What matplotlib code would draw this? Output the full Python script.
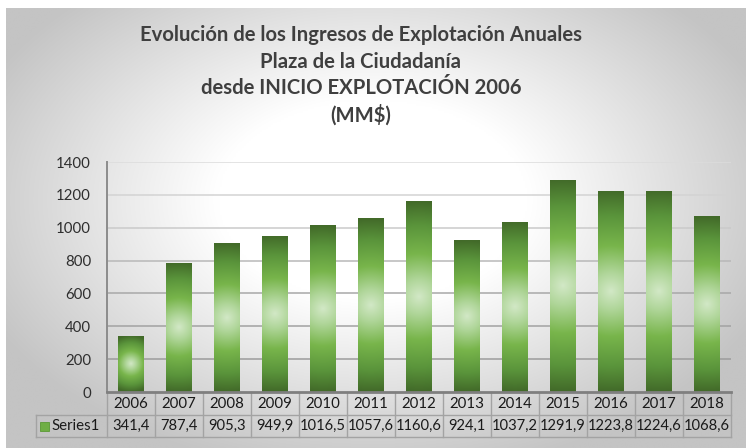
import numpy as np
import matplotlib
matplotlib.use("Agg")
import matplotlib.pyplot as plt
from matplotlib.colors import LinearSegmentedColormap
from matplotlib.patches import Rectangle
import matplotlib.transforms as mtransforms

years = ["2006", "2007", "2008", "2009", "2010", "2011", "2012",
         "2013", "2014", "2015", "2016", "2017", "2018"]
values = [341.4, 787.4, 905.3, 949.9, 1016.5, 1057.6, 1160.6,
          924.1, 1037.2, 1291.9, 1223.8, 1224.6, 1068.6]
series_name = "Series1"
title_lines = ["Evolución de los Ingresos de Explotación Anuales",
               "Plaza de la Ciudadanía",
               "desde INICIO EXPLOTACIÓN 2006",
               "(MM$)"]
yticks = [0, 200, 400, 600, 800, 1000, 1200, 1400]

W, H = 746, 448
fig = plt.figure(figsize=(W / 100, H / 100), dpi=100)
fig.patch.set_facecolor("white")

# background radial gradient
bg = fig.add_axes([0, 0, 1, 1], zorder=-10)
bg.set_xlim(0, W)
bg.set_ylim(H, 0)
bg.axis("off")
xx, yy = np.meshgrid(np.linspace(6, W, 400), np.linspace(8, H, 250))
t = np.sqrt(((xx - 373) / 370) ** 2 + ((yy - 200) / 240) ** 2)
val = np.clip(255 - 80 * np.clip(t - 0.42, 0, None), 196, 255) / 255.0
img = np.dstack([val, val, val])
bg.imshow(img, extent=(6, W, H, 8), aspect="auto", interpolation="bilinear")

FONT = "Lato"

# main axes
L, R, T, B = 107, 731, 162, 392
ax = fig.add_axes([L / W, 1 - B / H, (R - L) / W, (B - T) / H])
ax.set_facecolor("none")
n = len(years)
ax.set_xlim(-0.5, n - 0.5)
ax.set_ylim(0, 1400)

grid_cols = {1400: "#dcdcdc", 1200: "#d3d3d3", 1000: "#cacaca", 800: "#b8b8b8",
             600: "#a8a8a8", 400: "#a2a2a2", 200: "#9c9c9c"}
for yv, c in grid_cols.items():
    ax.axhline(yv, color=c, lw=1.1, zorder=1)

cmap = LinearSegmentedColormap.from_list(
    "g", [(0, "#d2e8c6"), (0.18, "#b0d69a"), (0.45, "#78b54b"),
          (0.75, "#5a943b"), (1.0, "#426a29")])

bw = 0.54
px_per_unit_x = (R - L) / n
px_per_val = (B - T) / 1400.0
bars = ax.bar(range(n), values, width=bw, color="none", edgecolor="none", zorder=3)
for i, (b, v) in enumerate(zip(bars, values)):
    hpx = v * px_per_val
    wpx = bw * px_per_unit_x
    ny = max(int(hpx * 2), 4)
    nx = 60
    X, Y = np.meshgrid(np.linspace(0, wpx, nx), np.linspace(0, hpx, ny))
    rad = np.sqrt((X - wpx / 2) ** 2 + (Y - hpx / 2) ** 2) / (hpx / 2)
    rad = np.clip(rad, 0, 1)
    im = ax.imshow(cmap(rad), extent=(i - bw / 2, i + bw / 2, 0, v), origin="lower",
                   aspect="auto", interpolation="bilinear", zorder=3)
    im.set_clip_path(b)
ax.set_xlim(-0.5, n - 0.5)
ax.set_ylim(0, 1400)

for s in ["top", "right"]:
    ax.spines[s].set_visible(False)
ax.spines["left"].set_color("#8c8c8c")
ax.spines["left"].set_linewidth(1.4)
ax.spines["bottom"].set_color("#7f7f7f")
ax.spines["bottom"].set_linewidth(2.0)
ax.spines["bottom"].set_zorder(5)
ax.set_xticks([])
ax.set_yticks(yticks)
ax.set_yticklabels([str(v) for v in yticks], fontfamily=FONT, fontsize=10.8, color="#2e2e2e")
ax.tick_params(axis="y", length=0, pad=11.5)

# data table
trans = mtransforms.blended_transform_factory(ax.transData, ax.transAxes)
hdr_bot = -23 / (B - T)
row_bot = -45 / (B - T)
lc = "#a3a3a3"
xl = -0.5 - (L - 36) / px_per_unit_x
kw = dict(transform=trans, clip_on=False, color=lc, lw=1.0, zorder=4)
for k in range(n + 1):
    x = k - 0.5
    ax.plot([x, x], [0, row_bot], **kw)
ax.plot([xl, n - 0.5], [hdr_bot, hdr_bot], **kw)
ax.plot([xl, n - 0.5], [row_bot, row_bot], **kw)
ax.plot([xl, xl], [hdr_bot, row_bot], **kw)

for i in range(n):
    ax.text(i, hdr_bot / 2, years[i], transform=trans, ha="center", va="center",
            fontfamily=FONT, fontsize=10.8, color="#1a1a1a", clip_on=False)
    ax.text(i, (hdr_bot + row_bot) / 2, f"{values[i]:.1f}".replace(".", ","),
            transform=trans, ha="center", va="center",
            fontfamily=FONT, fontsize=10.6, color="#1a1a1a", clip_on=False)

kx0 = -0.5 - (L - 40) / px_per_unit_x
kx1 = -0.5 - (L - 49) / px_per_unit_x
ky0 = -(422 - B) / (B - T)
ky1 = -(431 - B) / (B - T)
ax.add_patch(Rectangle((kx0, ky1), kx1 - kx0, ky0 - ky1, transform=trans,
                       facecolor="#6fae45", edgecolor="#5a9a35", lw=0.6,
                       clip_on=False, zorder=4))
ax.text(-0.5 - (L - 51) / px_per_unit_x, (hdr_bot + row_bot) / 2, series_name,
        transform=trans, ha="left", va="center", fontfamily=FONT, fontsize=10.8,
        color="#1a1a1a", clip_on=False)

# title
for yp, line in zip([35, 62, 88, 115], title_lines):
    fig.text(361 / W, 1 - yp / H, line, ha="center", va="center", fontfamily=FONT,
             fontweight="bold", fontsize=14.6, color="#3f3f3f")

fig.savefig("out.png", dpi=100)
